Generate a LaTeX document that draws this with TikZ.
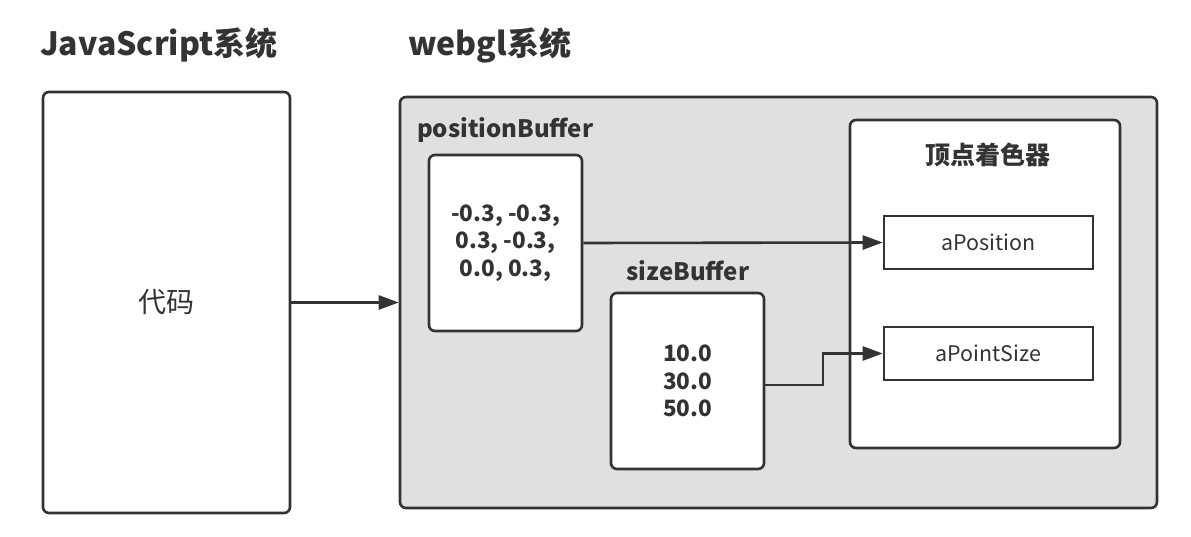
\documentclass[tikz,border=0pt]{standalone}
\usepackage{fontspec}
\setmainfont{Noto Sans CJK SC}
\usetikzlibrary{arrows.meta}
\definecolor{line}{HTML}{333333}
\definecolor{panel}{HTML}{E0E0E0}
\begin{document}
\begin{tikzpicture}[x=1pt,y=-1pt,
  box/.style={draw=line,line width=2.6pt,rounded corners=6pt,fill=white,inner sep=0pt,text=line},
  field/.style={draw=line,line width=2.6pt,fill=white,inner sep=0pt,text=line,minimum width=209pt,minimum height=53pt,font=\fontsize{21.4}{25}\selectfont},
  title/.style={anchor=west,inner sep=0pt,text=line,font=\fontsize{32}{38}\selectfont\bfseries},
  label/.style={inner sep=0pt,text=line,font=\fontsize{24}{28}\selectfont\bfseries},
  conn/.style={draw=line,line width=2.6pt,-{Triangle[length=20pt,width=14pt]}}
]
\useasboundingbox (0,0) rectangle (1191,537);
\fill[white] (0,0) rectangle (1191,537);
% titles
\node[title] (t1) at (40,45) {JavaScript系统};
\node[title] (t2) at (408,45) {webgl系统};
% JS box
\node[box,minimum width=247pt,minimum height=421pt,font=\fontsize{28}{32}\selectfont] (js) at (166.5,302.5) {代码};
% webgl container
\node[box,fill=panel,minimum width=757pt,minimum height=411pt] (gl) at (778.5,302.5) {};
\node[label,anchor=west] (plab) at (417,130) {positionBuffer};
\node[box,minimum width=153pt,minimum height=176pt,align=center,font=\fontsize{22.5}{27.5}\selectfont\bfseries] (pb) at (505.5,243) {-0.3, -0.3,\\0.3, -0.3,\\0.0, 0.3,};
\node[label] (slab) at (688,271) {sizeBuffer};
\node[box,minimum width=153pt,minimum height=176pt,align=center,font=\fontsize{22.5}{27.5}\selectfont\bfseries] (sb) at (687.5,381) {10.0\\30.0\\50.0};
% shader
\node[box,minimum width=270pt,minimum height=328pt] (sh) at (985,284) {};
\node[label,font=\fontsize{25}{30}\selectfont\bfseries] (shl) at (988,155) {顶点着色器};
\node[field] (ap) at (988.5,242.5) {aPosition};
\node[field] (aps) at (988.5,353.5) {aPointSize};
% connectors
\draw[conn] (js.east) -- (gl.west);
\draw[conn] (pb.east) -- (ap.west);
\coordinate (bend) at (823,353.5);
\draw[conn] ([yshift=-4pt]sb.east) -| (bend) -- (aps.west);
\end{tikzpicture}
\end{document}
